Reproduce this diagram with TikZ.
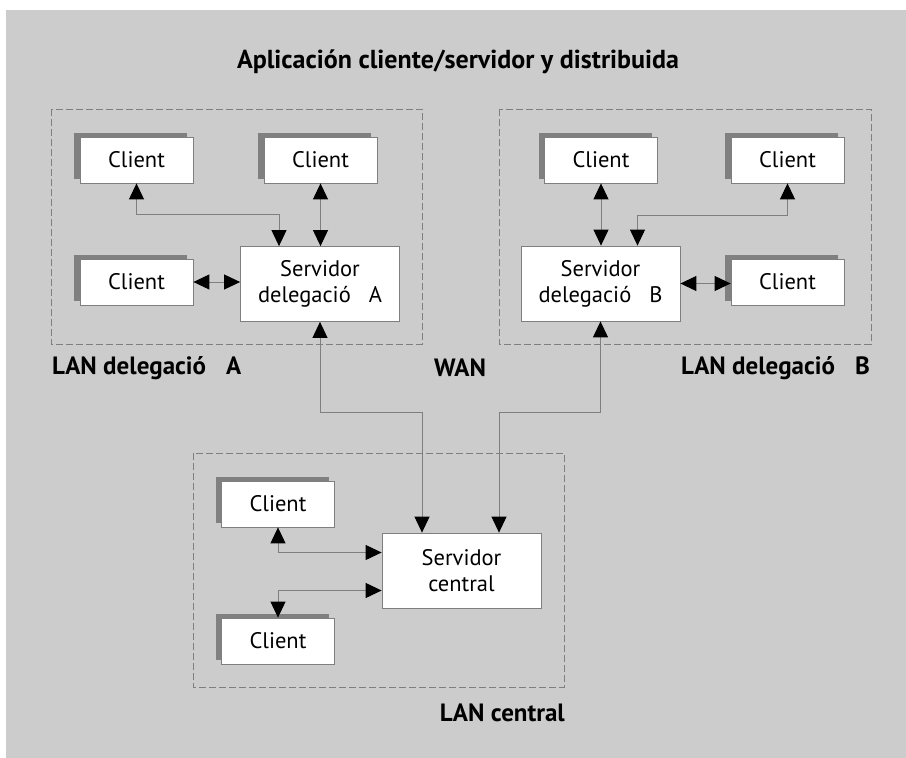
\documentclass[tikz,border=0pt]{standalone}
\usepackage{fontspec}
\setmainfont{PT Sans}
\usetikzlibrary{arrows.meta,shadows}
\definecolor{fons}{HTML}{CCCCCC}
\definecolor{ombra}{HTML}{808080}
\definecolor{linia}{HTML}{7F7F7F}
\tikzset{
	client/.style={draw=linia, line width=0.8pt, fill=white, minimum width=113pt, minimum height=46pt,
		general shadow={fill=ombra, shadow xshift=-6pt, shadow yshift=4pt}},
	servidor/.style={draw=linia, line width=0.8pt, fill=white, minimum width=159pt, minimum height=75pt, align=center},
	enllac/.style={draw=linia, line width=1pt,
		{Triangle[black,length=16pt 0 0,width=15pt 0 0]}-{Triangle[black,length=16pt 0 0,width=15pt 0 0]}},
	xarxa/.style={draw=linia, line width=0.8pt, dash pattern=on 7pt off 3pt},
	etiq/.style={font=\fontsize{25}{30}\selectfont\bfseries, inner sep=0pt}
}
\begin{document}
\begin{tikzpicture}[x=1pt, y=-1pt, font=\fontsize{22.5}{26}\selectfont]
	\useasboundingbox (0,0) rectangle (906,758);
	\fill[fons] (6,10) rectangle (906,758);
	\node[etiq, font=\fontsize{26}{30}\selectfont\bfseries] (titol) at (458,62) {Aplicación cliente/servidor y distribuida};
	% xarxes locals
	\draw[xarxa] (51,109) rectangle (422,344);
	\draw[xarxa] (499,109) rectangle (871,344);
	\draw[xarxa] (193,453) rectangle (564,687);
	\node[etiq, anchor=west] (lanA) at (52,368) {LAN delegació\hspace{0.8em}A};
	\node[etiq, anchor=east] (lanB) at (870,368) {LAN delegació\hspace{0.8em}B};
	\node[etiq] (wan) at (460,368) {WAN};
	\node[etiq, anchor=east] (lanC) at (565,713) {LAN central};
	% delegacio A
	\node[client] (clA1) at (136.5,160) {Client};
	\node[client] (clA2) at (320.5,160) {Client};
	\node[client] (clA3) at (136.5,282) {Client};
	\node[servidor] (servA) at (320,284) {Servidor\\delegació\hspace{0.8em}A};
	% delegacio B
	\node[client] (clB1) at (601,160) {Client};
	\node[client] (clB2) at (787.5,160) {Client};
	\node[client] (clB3) at (787.5,282) {Client};
	\node[servidor] (servB) at (600.5,283.5) {Servidor\\delegació\hspace{0.8em}B};
	% central
	\node[client] (clC1) at (278,504) {Client};
	\node[client] (clC2) at (278,641) {Client};
	\node[servidor] (servC) at (461.5,570.5) {Servidor\\central};
	% enllaços
	\draw[enllac] (clA1.south) -- ++(0,31) -| ([xshift=-41pt]servA.north);
	\draw[enllac] (clA2.south) -- (clA2.south |- servA.north);
	\draw[enllac] (clA3.east) -- (clA3.east -| servA.west);
	\draw[enllac] (clB1.south) -- (clB1.south |- servB.north);
	\draw[enllac] (clB2.south) -- ++(0,32) -| ([xshift=37pt]servB.north);
	\draw[enllac] (servB.east) -- (servB.east -| clB3.west);
	\draw[enllac] (clC1.south) |- ([yshift=18pt]servC.west);
	\draw[enllac] ([yshift=-20pt]servC.west) -| (clC2.north);
	% WAN
	\coordinate (wanA) at (422,412);
	\coordinate (wanB) at (499,412);
	\draw[enllac] (servA.south) |- (wanA) -- (wanA |- servC.north);
	\draw[enllac] (servB.south) |- (wanB) -- (wanB |- servC.north);
\end{tikzpicture}
\end{document}
